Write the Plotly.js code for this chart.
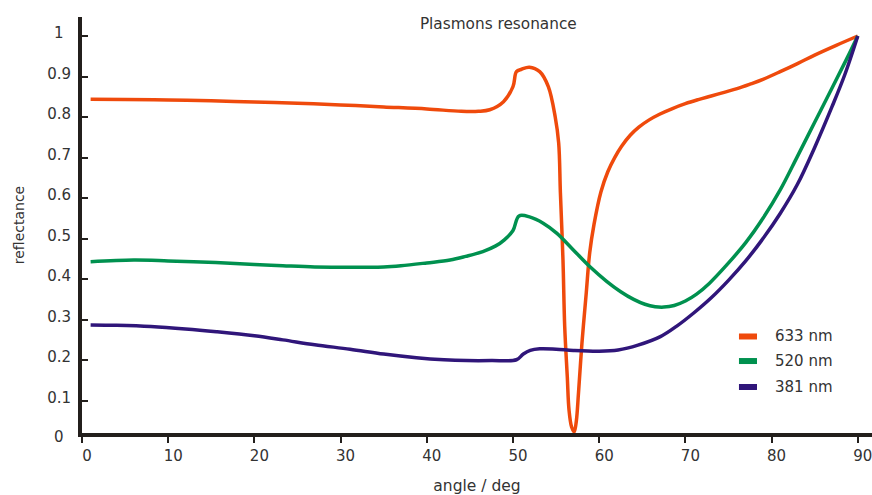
<!DOCTYPE html>
<html>
<head>
<meta charset="utf-8">
<script src="https://cdn.plot.ly/plotly-3.0.1.min.js"></script>
<style>html,body{margin:0;padding:0;background:#fff;}#chart{width:872px;height:495px;}</style>
</head>
<body>
<div id="chart"></div>
<script>
// ---- data ----
const seriesNames = ['633 nm', '520 nm', '381 nm'];
const seriesColors = ['#ef4a0c', '#00914f', '#30167a'];

const angle633 = [1, 5, 10, 15, 20, 25, 30, 35, 40, 44, 46, 47.3, 48.9, 50.0, 50.4, 51.0, 51.9, 53.1, 54.1, 54.9, 55.3, 55.5, 55.8, 56.0, 56.3, 56.5, 56.8, 57.1, 57.35, 57.6, 58.0, 58.5, 58.9, 59.4, 60.2, 61.0, 61.8, 62.6, 63.6, 64.6, 65.8, 67.0, 68.5, 70.0, 71.5, 73.0, 74.5, 76.0, 77.5, 79.0, 81.0, 83.0, 85.0, 87.5, 90];
const refl633  = [0.844, 0.843, 0.842, 0.840, 0.837, 0.834, 0.830, 0.825, 0.820, 0.814, 0.814, 0.818, 0.838, 0.875, 0.912, 0.918, 0.923, 0.912, 0.875, 0.800, 0.736, 0.613, 0.447, 0.283, 0.159, 0.077, 0.035, 0.023, 0.050, 0.119, 0.242, 0.366, 0.465, 0.535, 0.615, 0.665, 0.700, 0.728, 0.755, 0.775, 0.793, 0.807, 0.821, 0.833, 0.843, 0.852, 0.861, 0.870, 0.881, 0.893, 0.912, 0.932, 0.953, 0.977, 1.000];

const angle520 = [1, 6, 10, 15.5, 20, 23.3, 27, 31, 35, 37, 40, 42.7, 44.5, 46.5, 48, 49, 50, 50.7, 52, 53.5, 55.1, 57, 58.9, 60.9, 62.5, 64.0, 65.3, 66.5, 67.5, 68.7, 70.0, 71.3, 72.8, 74.8, 77, 79, 81, 83, 85, 87, 88.7, 90];
const refl520  = [0.443, 0.447, 0.445, 0.441, 0.436, 0.433, 0.430, 0.429, 0.430, 0.433, 0.440, 0.447, 0.456, 0.468, 0.482, 0.497, 0.520, 0.556, 0.553, 0.538, 0.513, 0.472, 0.431, 0.394, 0.369, 0.350, 0.338, 0.332, 0.331, 0.335, 0.346, 0.363, 0.390, 0.435, 0.490, 0.550, 0.620, 0.703, 0.787, 0.871, 0.943, 1.000];

const angle381 = [1, 4, 8, 12, 15.6, 20, 23.3, 27, 31.1, 35, 38.8, 42, 44.6, 47.5, 50.4, 51.2, 52, 53.1, 55, 57, 60, 62.2, 64.5, 67.1, 69, 71, 73, 75, 77, 79, 81, 83, 85, 87, 88.5, 90];
const refl381  = [0.287, 0.286, 0.283, 0.277, 0.270, 0.260, 0.250, 0.238, 0.227, 0.215, 0.206, 0.201, 0.199, 0.199, 0.201, 0.215, 0.224, 0.228, 0.227, 0.224, 0.222, 0.225, 0.237, 0.258, 0.284, 0.317, 0.354, 0.397, 0.445, 0.500, 0.562, 0.634, 0.725, 0.825, 0.905, 1.000];

const xTickVals = [0, 10, 20, 30, 40, 50, 60, 70, 80, 90];
const yTickVals = [0.1, 0.2, 0.3, 0.4, 0.5, 0.6, 0.7, 0.8, 0.9, 1];
const yTickText = ['0.1', '0.2', '0.3', '0.4', '0.5', '0.6', '0.7', '0.8', '0.9', '1\u2002'];

const chartTitle = 'Plasmons resonance';
const xTitle = 'angle / deg';
const yTitle = 'reflectance';

// ---- build ----
const xs = [angle633, angle520, angle381];
const ys = [refl633, refl520, refl381];
const traces = seriesNames.map((n, i) => ({
  type: 'scatter', mode: 'lines', name: n,
  x: xs[i], y: ys[i],
  line: {color: seriesColors[i], width: 3.5, shape: 'spline', smoothing: 1.0},
  showlegend: false, hoverinfo: 'skip'
}));

const fam = '"DejaVu Sans", Verdana, sans-serif';
const txt = '#333333';
const axisColor = '#231f1c';

const shapes = [];
const annotations = [];
const legY = [0.232, 0.173, 0.1106];
seriesNames.forEach((n, i) => {
  shapes.push({type: 'line', xref: 'paper', yref: 'paper', x0: 0.8316, x1: 0.8544, y0: legY[i], y1: legY[i],
    line: {color: seriesColors[i], width: 6}});
  annotations.push({xref: 'paper', yref: 'paper', x: 0.8747, y: legY[i], xanchor: 'left', yanchor: 'middle',
    text: n, showarrow: false, font: {family: fam, size: 15, color: txt}});
});
// the "0" label at the origin of the value axis
annotations.push({xref: 'paper', yref: 'paper', x: -0.029, y: -0.0096, xanchor: 'center', yanchor: 'middle',
  text: '0', showarrow: false, font: {family: fam, size: 15, color: txt}});

const layout = {
  width: 872, height: 495,
  margin: {l: 82, r: 0, t: 17, b: 62, pad: 0},
  paper_bgcolor: '#ffffff', plot_bgcolor: '#ffffff',
  font: {family: fam, size: 14, color: txt},
  title: {text: chartTitle, x: 0.527, xref: 'paper', xanchor: 'center', y: 0.953, yref: 'container', yanchor: 'middle',
    font: {family: fam, size: 15.3, color: txt}},
  xaxis: {
    range: [0, 91.65], tickvals: xTickVals, showgrid: false, zeroline: false,
    showline: true, linewidth: 4, linecolor: axisColor,
    ticks: 'outside', ticklen: 6, tickwidth: 2, tickcolor: axisColor,
    ticklabelshift: 5, ticklabeloverflow: 'allow',
    tickfont: {family: fam, size: 15, color: txt},
    title: {text: xTitle, standoff: 19, font: {family: fam, size: 15.5, color: txt}}
  },
  yaxis: {
    range: [0.0202, 1.0469], tickvals: yTickVals, ticktext: yTickText, showgrid: false, zeroline: false,
    showline: true, linewidth: 4, linecolor: axisColor,
    ticks: 'inside', ticklen: 6, tickwidth: 2, tickcolor: axisColor,
    ticklabelshift: -3, ticklabelstandoff: 4,
    tickfont: {family: fam, size: 15, color: txt},
    title: {text: yTitle, standoff: 20, font: {family: fam, size: 14, color: txt}}
  },
  shapes: shapes,
  annotations: annotations
};

Plotly.newPlot('chart', traces, layout, {displayModeBar: false, staticPlot: true});
</script>
</body>
</html>
